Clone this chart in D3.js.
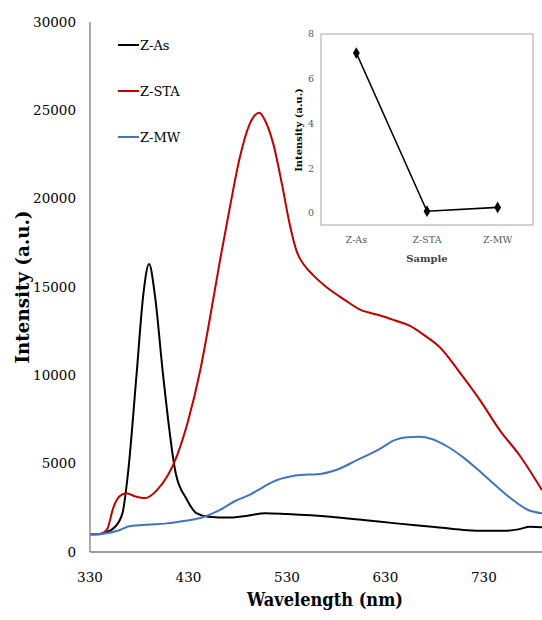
<!DOCTYPE html>
<html>
<head>
<meta charset="utf-8">
<script src="https://cdn.jsdelivr.net/npm/d3@7"></script>
<style>
  body { margin: 0; background: #fff; }
  svg { display: block; }
</style>
</head>
<body>
<div id="chart"></div>
<script>
// Spectra: [wavelength nm, intensity a.u.]
const zAs = [[330,1000],[340,1010],[345,1080],[355,1400],[363,2200],[368.6,4470],[377.4,10130],[384,14500],[390,16300],[396,14500],[404,10130],[417,4470],[428,3000],[438,2200],[450,2000],[472,1950],[490,2050],[508,2200],[530,2150],[574,2000],[610,1800],[641,1620],[680,1420],[709,1250],[735,1200],[750,1200],[765,1280],[777,1430],[789,1400]];
const zSta = [[330,1000],[340,1020],[347,1250],[354,2560],[360,3150],[367,3320],[376,3150],[386,3050],[398,3500],[418,5400],[430,7500],[442,10300],[452,13300],[462,16500],[472,19500],[482,22300],[492,24200],[502,24870],[508,24400],[516,23130],[525,20800],[533,18500],[540,17000],[548,16200],[556,15700],[570,15000],[589,14260],[605,13700],[624,13400],[640,13100],[655,12800],[670,12250],[685,11600],[705,10200],[726,8600],[746,6900],[766,5490],[789,3500]];
const zMw = [[330,1000],[345,1050],[358,1200],[371,1470],[390,1550],[408,1620],[425,1750],[442,1920],[462,2380],[478,2900],[492,3230],[505,3650],[515,3960],[536,4300],[552,4380],[564,4420],[580,4640],[601,5200],[623,5800],[640,6350],[652,6500],[665,6520],[677,6400],[692,6000],[708,5400],[730,4360],[753,3230],[775,2380],[789,2190]];

const seriesNames = ["Z-As", "Z-STA", "Z-MW"];
const seriesColors = ["#000000", "#c00000", "#4472c4"];
const seriesData = [zAs, zSta, zMw];

const xTicks = [330, 430, 530, 630, 730];
const yTicks = [0, 5000, 10000, 15000, 20000, 25000, 30000];

// inset: relative intensity per sample
const insetCats = ["Z-As", "Z-STA", "Z-MW"];
const insetVals = [7.15, 0.08, 0.25];
const insetTicks = [0, 2, 4, 6, 8];

const width = 542, height = 620;
const serif = "DejaVu Serif";
const svg = d3.select("#chart").append("svg")
    .attr("width", width)
    .attr("height", height)
    .attr("font-family", serif);

const x = d3.scaleLinear().domain([330, 789]).range([90, 542]);
const y = d3.scaleLinear().domain([0, 30000]).range([552, 22]);

// curves
const line = d3.line()
    .x(d => x(d[0]))
    .y(d => y(d[1]))
    .curve(d3.curveMonotoneX);

seriesData.forEach((s, i) => {
    svg.append("path")
        .datum(s)
        .attr("fill", "none")
        .attr("stroke", seriesColors[i])
        .attr("stroke-width", 2)
        .attr("d", line);
});

// axes lines
svg.append("line")
    .attr("x1", 90).attr("x2", 90)
    .attr("y1", y(30000)).attr("y2", y(0))
    .attr("stroke", "#7f7f7f").attr("stroke-width", 1.3);
svg.append("line")
    .attr("x1", 90).attr("x2", width)
    .attr("y1", y(0)).attr("y2", y(0))
    .attr("stroke", "#7f7f7f").attr("stroke-width", 1.3);

// tick labels
svg.selectAll(".ytick").data(yTicks).enter().append("text")
    .attr("class", "ytick")
    .attr("x", 76)
    .attr("y", d => y(d))
    .attr("dy", "0.35em")
    .attr("text-anchor", "end")
    .attr("font-family", serif)
    .attr("font-size", 13.5)
    .text(d => d);

svg.selectAll(".xtick").data(xTicks).enter().append("text")
    .attr("class", "xtick")
    .attr("x", d => x(d))
    .attr("y", 582)
    .attr("text-anchor", "middle")
    .attr("font-family", serif)
    .attr("font-size", 13.5)
    .text(d => d);

// axis titles
svg.append("text")
    .attr("x", 325)
    .attr("y", 606)
    .attr("text-anchor", "middle")
    .attr("font-family", serif)
    .attr("font-size", 18)
    .attr("font-weight", "bold")
    .attr("textLength", 156)
    .attr("lengthAdjust", "spacingAndGlyphs")
    .text("Wavelength (nm)");

svg.append("text")
    .attr("transform", "translate(29,287) rotate(-90)")
    .attr("text-anchor", "middle")
    .attr("font-family", serif)
    .attr("font-size", 18)
    .attr("font-weight", "bold")
    .attr("textLength", 153)
    .attr("lengthAdjust", "spacingAndGlyphs")
    .text("Intensity (a.u.)");

// legend
const legendY = [45, 91, 137];
seriesNames.forEach((n, i) => {
    svg.append("line")
        .attr("x1", 118).attr("x2", 139)
        .attr("y1", legendY[i]).attr("y2", legendY[i])
        .attr("stroke", seriesColors[i]).attr("stroke-width", 2);
    svg.append("text")
        .attr("x", 140)
        .attr("y", legendY[i])
        .attr("dy", "0.35em")
        .attr("font-family", serif)
        .attr("font-size", 13)
        .text(n);
});

// inset chart
const inset = { left: 321, right: 533, top: 34, bottom: 225 };
const ix = d3.scaleBand().domain(insetCats).range([inset.left, inset.right]);
const iy = d3.scaleLinear().domain([0, 8]).range([213, 34]);

svg.append("rect")
    .attr("x", inset.left).attr("y", inset.top)
    .attr("width", inset.right - inset.left)
    .attr("height", inset.bottom - inset.top)
    .attr("fill", "#fff")
    .attr("stroke", "#a6a6a6").attr("stroke-width", 1);

svg.selectAll(".itick").data(insetTicks).enter().append("text")
    .attr("class", "itick")
    .attr("x", 314)
    .attr("y", d => iy(d))
    .attr("dy", "0.35em")
    .attr("text-anchor", "end")
    .attr("fill", "#595959")
    .attr("font-family", serif)
    .attr("font-size", 9.5)
    .text(d => d);

svg.selectAll(".icat").data(insetCats).enter().append("text")
    .attr("class", "icat")
    .attr("x", d => ix(d) + ix.bandwidth() / 2)
    .attr("y", 243)
    .attr("text-anchor", "middle")
    .attr("fill", "#595959")
    .attr("font-family", serif)
    .attr("font-size", 9.5)
    .text(d => d);

svg.append("text")
    .attr("x", 427)
    .attr("y", 262)
    .attr("text-anchor", "middle")
    .attr("fill", "#404040")
    .attr("font-family", serif)
    .attr("font-size", 10)
    .attr("font-weight", "bold")
    .text("Sample");

svg.append("text")
    .attr("transform", "translate(302,130) rotate(-90)")
    .attr("text-anchor", "middle")
    .attr("font-family", serif)
    .attr("font-size", 10)
    .attr("font-weight", "bold")
    .text("Intensity (a.u.)");

const insetPts = insetCats.map((c, i) => [ix(c) + ix.bandwidth() / 2, iy(insetVals[i])]);
svg.append("path")
    .datum(insetPts)
    .attr("fill", "none")
    .attr("stroke", "#000")
    .attr("stroke-width", 1.6)
    .attr("d", d3.line());

svg.selectAll(".imark").data(insetPts).enter().append("path")
    .attr("class", "imark")
    .attr("transform", d => `translate(${d[0]},${d[1]})`)
    .attr("d", d3.symbol(d3.symbolDiamond, 40))
    .attr("fill", "#000");
</script>
</body>
</html>
